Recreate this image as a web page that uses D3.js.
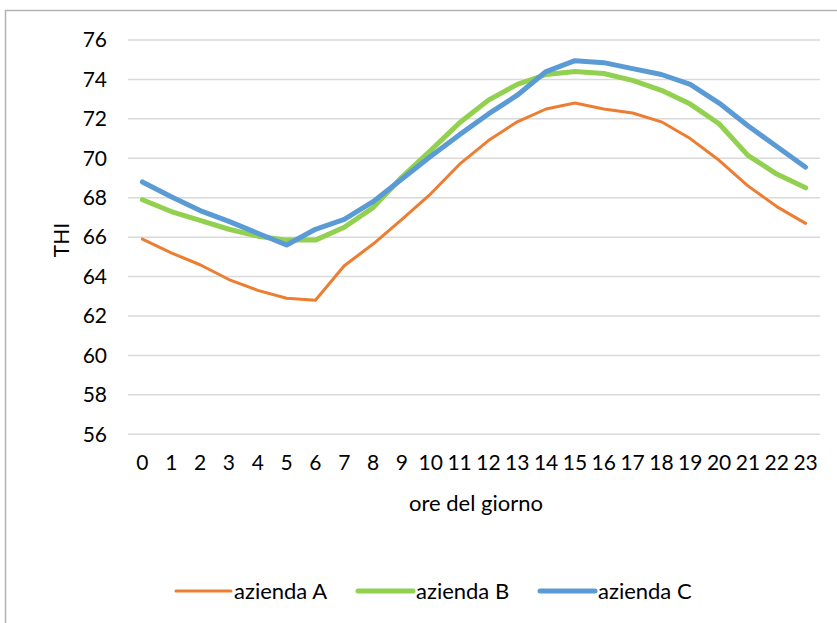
<!DOCTYPE html>
<html>

<head>
  <title>THI</title>
  <script src="https://cdn.jsdelivr.net/npm/d3@7"></script>
  <style>
    body { margin: 0; background: #fff; }
    text { font-family: Lato, "Open Sans", sans-serif; fill: #000; }
  </style>
</head>

<body>
  <svg width="837" height="623" id="mainsvg"></svg>
  <script>
    const hours = d3.range(0, 24);
    const yTicks = [56, 58, 60, 62, 64, 66, 68, 70, 72, 74, 76];
    const seriesNames = ['azienda A', 'azienda B', 'azienda C'];
    const aziendaA = [65.9, 65.2, 64.6, 63.85, 63.3, 62.9, 62.8, 64.55, 65.65, 66.9, 68.2, 69.7,
      70.9, 71.85, 72.5, 72.8, 72.5, 72.3, 71.85, 71.0, 69.9, 68.6, 67.55, 66.7];
    const aziendaB = [67.9, 67.3, 66.85, 66.4, 66.05, 65.85, 65.85, 66.5, 67.5, 69.05, 70.4, 71.8,
      72.95, 73.75, 74.25, 74.4, 74.3, 73.95, 73.45, 72.75, 71.75, 70.15, 69.2, 68.5];
    const aziendaC = [68.8, 68.05, 67.35, 66.8, 66.2, 65.6, 66.4, 66.9, 67.8, 68.95, 70.1, 71.2,
      72.25, 73.2, 74.4, 74.95, 74.85, 74.55, 74.25, 73.75, 72.8, 71.65, 70.6, 69.55];

    const svg = d3.select('#mainsvg');
    const colors = ['#ED7D31', '#92D050', '#5B9BD5'];
    const widths = [3, 5, 5];
    const data = [aziendaA, aziendaB, aziendaC];
    const fs = 21;

    // outer chart frame
    svg.append('rect')
      .attr('x', 5.5).attr('y', 10.5)
      .attr('width', 900).attr('height', 700)
      .attr('fill', 'none').attr('stroke', '#b3b3b3').attr('stroke-width', 1.5);

    const x = d3.scaleBand().domain(hours).range([128, 820]);
    const y = d3.scaleLinear().domain([56, 76]).range([434.3, 40]);
    const cx = d => x(d) + x.bandwidth() / 2;

    // gridlines
    svg.append('g')
      .selectAll('line')
      .data(yTicks)
      .join('line')
      .attr('x1', 128).attr('x2', 820)
      .attr('y1', d => y(d)).attr('y2', d => y(d))
      .attr('stroke', '#d9d9d9').attr('stroke-width', 1.5);

    const yAxis = d3.axisLeft(y).tickValues(yTicks).tickSize(0).tickPadding(0);
    svg.append('g')
      .attr('transform', 'translate(107,0)')
      .call(yAxis)
      .call(g => g.select('.domain').remove())
      .selectAll('text')
      .attr('font-size', fs)
      .attr('font-family', 'Lato, "Open Sans", sans-serif');

    const xAxis = d3.axisBottom(x).tickSize(0).tickPadding(0);
    svg.append('g')
      .attr('transform', 'translate(0,455)')
      .call(xAxis)
      .call(g => g.select('.domain').remove())
      .selectAll('text')
      .attr('font-size', fs)
      .attr('font-family', 'Lato, "Open Sans", sans-serif');

    svg.append('text')
      .attr('x', 476).attr('y', 511)
      .attr('text-anchor', 'middle')
      .attr('font-size', fs + 1)
      .text('ore del giorno');

    svg.append('text')
      .attr('transform', 'translate(69,240) rotate(-90)')
      .attr('text-anchor', 'middle')
      .attr('font-size', fs)
      .text('THI');

    const line = d3.line()
      .x((d, i) => cx(hours[i]))
      .y(d => y(d));

    svg.append('g')
      .selectAll('path')
      .data(data)
      .join('path')
      .attr('d', line)
      .attr('fill', 'none')
      .attr('stroke', (d, i) => colors[i])
      .attr('stroke-width', (d, i) => widths[i])
      .attr('stroke-linejoin', 'round')
      .attr('stroke-linecap', 'round');

    // legend
    const legendX = [176, 358, 540];
    const legend = svg.append('g')
      .selectAll('g')
      .data(seriesNames)
      .join('g')
      .attr('transform', (d, i) => `translate(${legendX[i]},591)`);
    legend.append('line')
      .attr('x1', 0).attr('x2', 55)
      .attr('stroke', (d, i) => colors[i])
      .attr('stroke-width', (d, i) => widths[i])
      .attr('stroke-linecap', 'round');
    legend.append('text')
      .attr('x', 58).attr('dy', '0.35em')
      .attr('font-size', fs + 1)
      .text(d => d);
  </script>
</body>

</html>
